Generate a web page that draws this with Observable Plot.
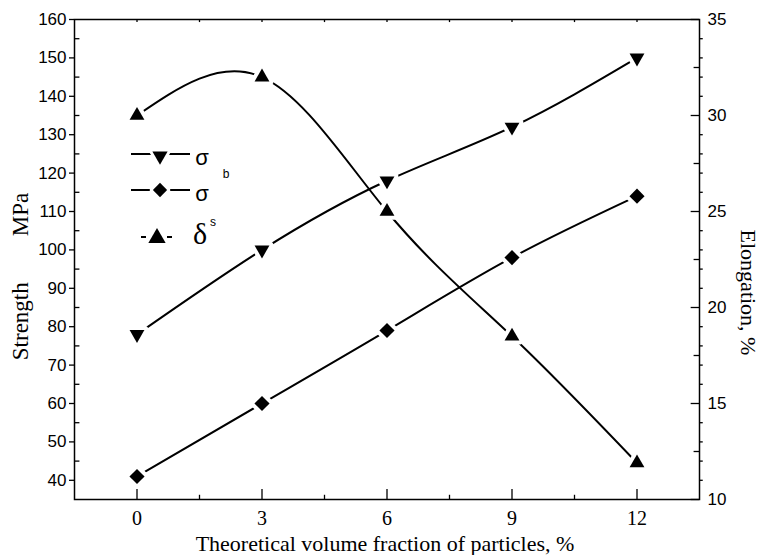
<!DOCTYPE html>
<html>
<head>
<meta charset="utf-8">
<script src="https://cdn.jsdelivr.net/npm/d3@7"></script>
<script src="https://cdn.jsdelivr.net/npm/@observablehq/plot@0.6"></script>
<style>
  html, body { margin: 0; padding: 0; background: #fff; }
</style>
</head>
<body>
<div id="chart"></div>
<script>
// ---- data ----
const fraction = [0, 3, 6, 9, 12];          // theoretical volume fraction, %
const sigmaB = [78, 100, 118, 132, 150];    // strength σb, MPa (left axis)
const sigmaS = [41, 60, 79, 98, 114];       // strength σs, MPa (left axis)
const elongation = [30, 32, 25, 18.5, 11.9];// elongation δ, % (right axis)

const xTicks = [0, 3, 6, 9, 12];
const yTicks = [40, 50, 60, 70, 80, 90, 100, 110, 120, 130, 140, 150, 160];
const rightTicks = [10, 15, 20, 25, 30, 35];

// right axis (10..35 %) shares the frame with the left axis (35..160 MPa)
const eToS = e => 5 * e - 15;
const sToE = s => (s + 15) / 5;

const rowsB = fraction.map((f, i) => ({x: f, y: sigmaB[i]}));
const rowsS = fraction.map((f, i) => ({x: f, y: sigmaS[i]}));
const rowsE = fraction.map((f, i) => ({x: f, y: eToS(elongation[i])}));

const sans = "'Liberation Sans', Arial, sans-serif";
const serif = "'Liberation Serif', 'Times New Roman', serif";

const xMinorTicks = [1.5, 4.5, 7.5, 10.5];
const yMinorTicks = d3.range(45, 160, 10);
const rightMinor = [12.5, 17.5, 22.5, 27.5, 32.5].map(eToS);
const rightSmall = d3.range(11, 35, 1).filter(v => v % 2.5 !== 0).map(eToS);

const lineStyle = {x: "x", y: "y", curve: "natural", stroke: "black", strokeWidth: 2};
const dotStyle = {x: "x", y: "y", fill: "black", stroke: "white", strokeWidth: 8,
  paintOrder: "stroke", strokeLinejoin: "round"};

const chart = Plot.plot({
  width: 761,
  height: 555,
  marginLeft: 74,
  marginRight: 62,
  marginTop: 19,
  marginBottom: 56,
  style: {background: "white", color: "black", fontFamily: sans},
  x: {domain: [-1.5, 13.5]},
  y: {domain: [35, 160]},
  marks: [
    // curves
    Plot.line(rowsB, lineStyle),
    Plot.line(rowsS, lineStyle),
    Plot.line(rowsE, lineStyle),
    // markers
    Plot.dot(rowsB, {...dotStyle, symbol: "triangle", rotate: 180, r: 5.5}),
    Plot.dot(rowsS, {...dotStyle, symbol: "diamond2", r: 6.8}),
    Plot.dot(rowsE, {...dotStyle, symbol: "triangle", r: 5.5}),
    // frame
    Plot.frame({stroke: "black", strokeWidth: 1.5}),
    // left axis
    Plot.axisY({anchor: "left", ticks: yTicks, tickSize: 5, tickPadding: 3,
      fontSize: 17, fontFamily: sans, label: null, strokeWidth: 1.3, fill: "black"}),
    Plot.ruleY(yMinorTicks, {y: d => d, x1: -1.5, x2: -1.5 + 0.13, strokeWidth: 1.3}),
    // right axis
    Plot.axisY({anchor: "right", ticks: rightTicks.map(eToS), tickFormat: sToE,
      tickSize: 0, tickPadding: 8, fontSize: 17, fontFamily: sans, label: null, fill: "black"}),
    Plot.ruleY(rightTicks.map(eToS), {y: d => d, x1: 13.5 - 0.2, x2: 13.5, strokeWidth: 1.3}),
    Plot.ruleY(rightMinor, {y: d => d, x1: 13.5 - 0.13, x2: 13.5, strokeWidth: 1.3}),
    Plot.ruleY(rightSmall, {y: d => d, x1: 13.5, x2: 13.5 + 0.09, strokeWidth: 1.3}),
    // bottom axis
    Plot.axisX({ticks: xTicks, tickSize: 0, tickPadding: 11, fontSize: 20,
      fontFamily: serif, label: null, fill: "black"}),
    Plot.ruleX(xTicks, {x: d => d, y1: 35, y2: 35 + 2.6, strokeWidth: 1.3}),
    Plot.ruleX(xMinorTicks, {x: d => d, y1: 35, y2: 35 + 1.1, strokeWidth: 1.3}),
    Plot.ruleX(xTicks.concat(xMinorTicks), {x: d => d, y1: 160, y2: 160 - 0.8, strokeWidth: 1.3}),
    // axis titles
    Plot.text(["Strength" + "\u00a0".repeat(8) + "MPa"], {text: d => d, frameAnchor: "left",
      textAnchor: "middle", lineAnchor: "middle",
      rotate: -90, dx: -54, dy: 17, fontFamily: serif, fontSize: 23, fill: "black"}),
    Plot.text(["Elongation, %"], {text: d => d, frameAnchor: "right",
      textAnchor: "middle", lineAnchor: "middle",
      rotate: 90, dx: 49, dy: 33, fontFamily: serif, fontSize: 22, fill: "black"}),
    Plot.text(["Theoretical volume fraction of particles, %"], {text: d => d,
      frameAnchor: "bottom", textAnchor: "middle", lineAnchor: "middle",
      dx: -2, dy: 44, fontFamily: serif, fontSize: 22, fill: "black"})
  ]
});

document.getElementById("chart").appendChild(chart);

// ---- legend ----
const svg = d3.select(chart);
const lg = svg.append("g").attr("fill", "black");
function legendLine(y, dashes) {
  if (dashes) {
    lg.append("line").attr("x1", 141).attr("x2", 146).attr("y1", y).attr("y2", y)
      .attr("stroke", "black").attr("stroke-width", 2);
    lg.append("line").attr("x1", 167).attr("x2", 172).attr("y1", y).attr("y2", y)
      .attr("stroke", "black").attr("stroke-width", 2);
  } else {
    lg.append("line").attr("x1", 131).attr("x2", 190).attr("y1", y).attr("y2", y)
      .attr("stroke", "black").attr("stroke-width", 2);
  }
}
function legendSymbol(type, size, x, y, rot) {
  lg.append("path")
    .attr("d", d3.symbol(type, size)())
    .attr("transform", `translate(${x},${y}) rotate(${rot})`)
    .attr("fill", "black").attr("stroke", "white").attr("stroke-width", 6)
    .attr("paint-order", "stroke").attr("stroke-linejoin", "round");
}
legendLine(154, false);
legendSymbol(d3.symbolTriangle, 100, 160, 156, 180);
legendLine(190, false);
legendSymbol(d3.symbolDiamond2, 130, 160, 190, 0);
legendLine(237, true);
legendSymbol(d3.symbolTriangle, 130, 157, 238, 0);

function legendText(t, x, y, family, size) {
  lg.append("text").text(t).attr("x", x).attr("y", y)
    .attr("font-family", family).attr("font-size", size).attr("fill", "black");
}
legendText("σ", 202, 165, sans, 22);
legendText("b", 226, 178, sans, 12);
legendText("σ", 202, 201, sans, 22);
legendText("δ", 200, 244, serif, 30);
legendText("s", 213, 226, sans, 12);
</script>
</body>
</html>
